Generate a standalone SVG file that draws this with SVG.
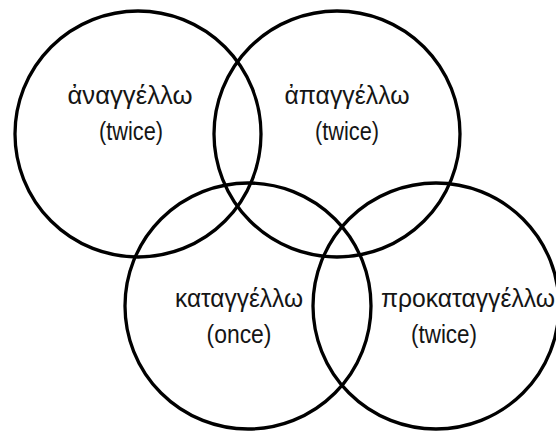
<svg xmlns="http://www.w3.org/2000/svg" width="556" height="432" viewBox="0 0 556 432">
<style>
.c{fill:none;stroke:#000;stroke-width:3.3}
.t{font-family:"Liberation Sans",Arial,sans-serif;font-size:25px;fill:#151515;text-anchor:middle}
</style>
<rect width="556" height="432" fill="#fff"/>
<g id="anangello"><circle class="c" cx="138" cy="134" r="123"/><text class="t" x="130" y="104" textLength="125" lengthAdjust="spacingAndGlyphs">ἀναγγέλλω</text><text class="t" x="131" y="140" textLength="64" lengthAdjust="spacingAndGlyphs">(twice)</text></g>
<g id="apangello"><circle class="c" cx="337" cy="134" r="123"/><text class="t" x="347" y="104" textLength="125" lengthAdjust="spacingAndGlyphs">ἀπαγγέλλω</text><text class="t" x="347" y="140" textLength="64" lengthAdjust="spacingAndGlyphs">(twice)</text></g>
<g id="katangello"><circle class="c" cx="248" cy="306" r="123"/><text class="t" x="239" y="307" textLength="128" lengthAdjust="spacingAndGlyphs">καταγγέλλω</text><text class="t" x="239" y="343" textLength="65" lengthAdjust="spacingAndGlyphs">(once)</text></g>
<g id="prokatangello"><circle class="c" cx="436" cy="306" r="123"/><text class="t" x="468" y="307" textLength="174" lengthAdjust="spacingAndGlyphs">προκαταγγέλλω</text><text class="t" x="444" y="343" textLength="66" lengthAdjust="spacingAndGlyphs">(twice)</text></g>
<g id="connectors"/>
</svg>
